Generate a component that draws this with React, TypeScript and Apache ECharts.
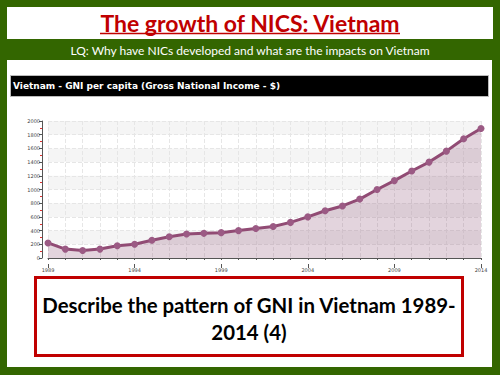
import React, { useEffect, useRef } from "react";
import * as echarts from "echarts";

const years = [
  "1989", "1990", "1991", "1992", "1993", "1994", "1995", "1996", "1997",
  "1998", "1999", "2000", "2001", "2002", "2003", "2004", "2005", "2006",
  "2007", "2008", "2009", "2010", "2011", "2012", "2013", "2014",
];
const gni = [
  220, 130, 110, 130, 180, 200, 260, 310, 350, 360, 370, 400, 430, 460, 520,
  600, 690, 760, 860, 1000, 1130, 1270, 1400, 1560, 1740, 1890,
];

const titleText = "The growth of NICS: Vietnam";
const lqText = "LQ: Why have NICs developed and what are the impacts on Vietnam";
const chartTitle = "Vietnam - GNI per capita (Gross National Income - $)";
const questionLines = ["Describe the pattern of GNI in Vietnam 1989-", "2014 (4)"];

export default function App() {
  const ref = useRef<HTMLDivElement>(null);
  useEffect(() => {
    document.body.style.margin = "0";
    if (!ref.current) return;
    const chart = echarts.init(ref.current, undefined, { renderer: "svg" });
    const axisGrey = "#555";
    chart.setOption({
      animation: false,
      graphic: [
        { type: "rect", z: -10, shape: { x: 0, y: 0, width: 500, height: 375 }, style: { fill: "#336600" } },
        { type: "rect", z: -9, shape: { x: 7, y: 7, width: 486, height: 32 }, style: { fill: "#ffffff" } },
        {
          type: "text", x: 250, y: 23,
          style: { text: titleText, fill: "#c00000", font: "bold 23px Lato", textAlign: "center", textVerticalAlign: "middle" },
        },
        { type: "line", shape: { x1: 100, y1: 33.5, x2: 400, y2: 33.5 }, style: { stroke: "#c00000", lineWidth: 1.5 } },
        {
          type: "text", x: 250, y: 50,
          style: { text: lqText, fill: "#ffffff", font: "12px Lato", textAlign: "center", textVerticalAlign: "middle" },
        },
        { type: "rect", z: -9, shape: { x: 7, y: 60, width: 485, height: 307 }, style: { fill: "#ffffff" } },
        { type: "rect", z: -8, shape: { x: 10.5, y: 75.5, width: 478, height: 21 }, style: { fill: "#000000", stroke: "#bbbbbb", lineWidth: 1 } },
        {
          type: "text", x: 13, y: 86,
          style: { text: chartTitle, fill: "#ffffff", font: "bold 9px 'DejaVu Sans'", textAlign: "left", textVerticalAlign: "middle" },
        },
        { type: "rect", shape: { x: 35.5, y: 277.5, width: 427, height: 78 }, style: { fill: "#ffffff", stroke: "#c00000", lineWidth: 3 } },
        {
          type: "text", x: 249, y: 305,
          style: { text: questionLines[0], fill: "#000000", font: "bold 20.4px Lato", textAlign: "center", textVerticalAlign: "middle" },
        },
        {
          type: "text", x: 249, y: 332,
          style: { text: questionLines[1], fill: "#000000", font: "bold 20.4px Lato", textAlign: "center", textVerticalAlign: "middle" },
        },
      ],
      grid: { left: 48, right: 19, top: 121, bottom: 117, containLabel: false },
      xAxis: [
        {
          type: "category",
          data: years,
          boundaryGap: false,
          position: "bottom",
          offset: 6,
          axisLine: { show: true, lineStyle: { color: axisGrey, width: 1 } },
          axisTick: { show: true, interval: 0, length: 2, lineStyle: { color: axisGrey } },
          axisLabel: { interval: 4, fontSize: 5, color: "#444", margin: 3, fontFamily: "DejaVu Sans" },
          splitLine: { show: true, interval: 0, lineStyle: { color: "#e6e6e6", type: "dashed", width: 1 } },
        },
        {
          type: "category",
          data: years,
          boundaryGap: false,
          position: "bottom",
          offset: 6,
          axisLine: { show: false },
          axisTick: { show: true, interval: 4, length: 4, lineStyle: { color: axisGrey } },
          axisLabel: { show: false },
          splitLine: { show: false },
        },
      ],
      yAxis: {
        type: "value",
        min: 0,
        max: 2000,
        interval: 200,
        offset: 6,
        axisLine: { show: true, lineStyle: { color: axisGrey, width: 1 } },
        axisTick: { show: true, length: 3, lineStyle: { color: axisGrey } },
        minorTick: { show: true, splitNumber: 2, length: 2, lineStyle: { color: "#e03030" } },
        axisLabel: { fontSize: 5, color: "#444", margin: 2, fontFamily: "DejaVu Sans", formatter: (v: number) => String(v) },
        splitLine: { show: true, lineStyle: { color: "#e6e6e6", type: "dashed", width: 1 } },
        splitArea: { show: true, areaStyle: { color: ["rgba(255,255,255,0)", "#f5f5f5"] } },
      },
      series: [
        {
          type: "line",
          data: gni,
          xAxisIndex: 0,
          symbol: "circle",
          symbolSize: 7,
          lineStyle: { color: "#914b74", width: 3 },
          itemStyle: { color: "#9b5a84" },
          areaStyle: { color: "rgba(150,95,128,0.38)" },
        },
      ],
    });
    return () => chart.dispose();
  }, []);
  return <div ref={ref} style={{ width: 500, height: 375 }} />;
}
